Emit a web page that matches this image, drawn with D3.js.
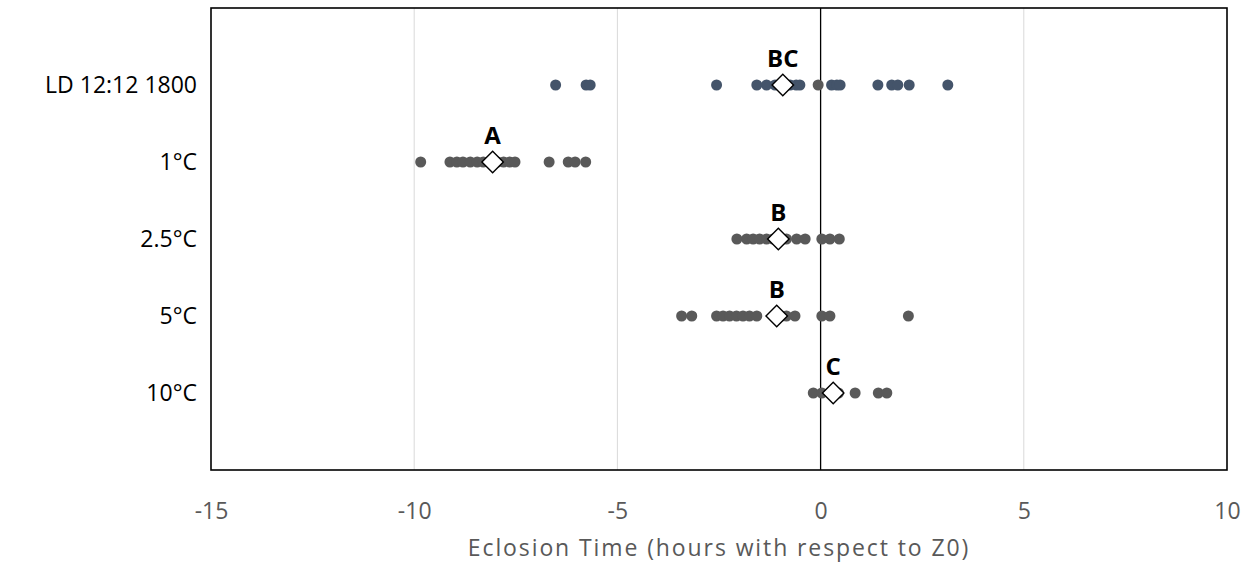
<!DOCTYPE html>
<html>
<head>
<meta charset="utf-8">
<script src="https://cdn.jsdelivr.net/npm/d3@7"></script>
<style>
  body { margin: 0; background: #fff; }
  text { font-family: "Open Sans", "Noto Sans", sans-serif; }
</style>
</head>
<body>
<svg id="chart" width="1251" height="573"></svg>
<script>
// categories (top to bottom) and their y positions
const categories = ["LD 12:12 1800", "1°C", "2.5°C", "5°C", "10°C"];
const rowPos = [5, 4, 3, 2, 1];

// individual eclosion times (hours vs Z0)
const ldValues = [-6.52, -5.77, -5.67, -2.56, -1.57, -1.33, -1.12, -0.93, -0.75, -0.6, -0.51, 0.27, 0.4, 0.48, 1.41, 1.75, 1.9, 2.18, 3.13];
const ldGrey = [-0.06];
const c1Values = [-9.84, -9.12, -8.95, -8.8, -8.62, -8.45, -8.3, -8.12, -7.95, -7.8, -7.65, -7.52, -6.68, -6.21, -6.04, -5.78];
const c25Values = [-2.06, -1.82, -1.66, -1.5, -1.33, -1.17, -1.0, -0.84, -0.59, -0.38, 0.03, 0.23, 0.46];
const c5Values = [-3.42, -3.17, -2.56, -2.4, -2.24, -2.07, -1.91, -1.75, -1.57, -0.96, -0.84, -0.63, 0.03, 0.23, 2.16];
const c10Values = [-0.18, 0.03, 0.23, 0.44, 0.85, 1.42, 1.63];

// group means and significance letters
const means = [-0.93, -8.07, -1.04, -1.08, 0.31];
const letters = ["BC", "A", "B", "B", "C"];

const xTicks = [-15, -10, -5, 0, 5, 10];
const xTitle = "Eclosion Time (hours with respect to Z0)";

const svg = d3.select("#chart");
const plot = {left: 211, right: 1227, top: 8, bottom: 470};

const x = d3.scaleLinear().domain([-15, 10]).range([plot.left, plot.right]);
const y = d3.scaleLinear().domain([0, 6]).range([plot.bottom, plot.top]);

// gridlines
svg.append("g")
  .selectAll("line")
  .data(xTicks.filter(d => d !== 0 && d !== -15 && d !== 10))
  .join("line")
  .attr("x1", d => x(d)).attr("x2", d => x(d))
  .attr("y1", plot.top).attr("y2", plot.bottom)
  .attr("stroke", "#d9d9d9").attr("stroke-width", 1);

// zero line
svg.append("line")
  .attr("x1", x(0)).attr("x2", x(0))
  .attr("y1", plot.top).attr("y2", plot.bottom)
  .attr("stroke", "#000").attr("stroke-width", 1.3);

// frame
svg.append("rect")
  .attr("x", plot.left).attr("y", plot.top)
  .attr("width", plot.right - plot.left).attr("height", plot.bottom - plot.top)
  .attr("fill", "none").attr("stroke", "#000").attr("stroke-width", 1.6);

// x axis labels
const xAxis = svg.append("g")
  .attr("transform", `translate(0,${plot.bottom})`)
  .call(d3.axisBottom(x).tickValues(xTicks).tickSize(0).tickPadding(41).tickFormat(d => String(d)));
xAxis.select(".domain").remove();
xAxis.selectAll("text")
  .attr("dy", "0.35em")
  .attr("fill", "#595959").style("font-size", "23px");

svg.append("text")
  .attr("x", x(-2.5)).attr("y", 548)
  .attr("dy", "0.35em")
  .attr("text-anchor", "middle")
  .attr("fill", "#595959").style("font-size", "23px")
  .style("letter-spacing", "1.9px")
  .text(xTitle);

// y labels
svg.append("g")
  .selectAll("text")
  .data(categories)
  .join("text")
  .attr("x", 197)
  .attr("y", (d, i) => y(rowPos[i]))
  .attr("dy", "0.35em")
  .attr("text-anchor", "end")
  .attr("fill", "#000").style("font-size", "23px")
  .text(d => d);

// dots
const series = [
  {vals: ldValues, row: 5, color: "#44546a"},
  {vals: ldGrey, row: 5, color: "#595959"},
  {vals: c1Values, row: 4, color: "#595959"},
  {vals: c25Values, row: 3, color: "#595959"},
  {vals: c5Values, row: 2, color: "#595959"},
  {vals: c10Values, row: 1, color: "#595959"}
];
series.forEach(s => {
  svg.append("g")
    .selectAll("circle")
    .data(s.vals)
    .join("circle")
    .attr("cx", d => x(d))
    .attr("cy", y(s.row))
    .attr("r", 5.5)
    .attr("fill", s.color);
});

// mean diamonds
const diamond = d3.symbol().type(d3.symbolSquare).size(230);
svg.append("g")
  .selectAll("path")
  .data(means)
  .join("path")
  .attr("d", diamond)
  .attr("transform", (d, i) => `translate(${x(d)},${y(rowPos[i])}) rotate(45)`)
  .attr("fill", "#fff")
  .attr("stroke", "#000")
  .attr("stroke-width", 1.4);

// letters
svg.append("g")
  .selectAll("text")
  .data(means)
  .join("text")
  .attr("x", d => x(d))
  .attr("y", (d, i) => y(rowPos[i]) - 18)
  .attr("text-anchor", "middle")
  .attr("font-weight", "bold")
  .attr("fill", "#000").style("font-size", "24px")
  .text((d, i) => letters[i]);
</script>
</body>
</html>
